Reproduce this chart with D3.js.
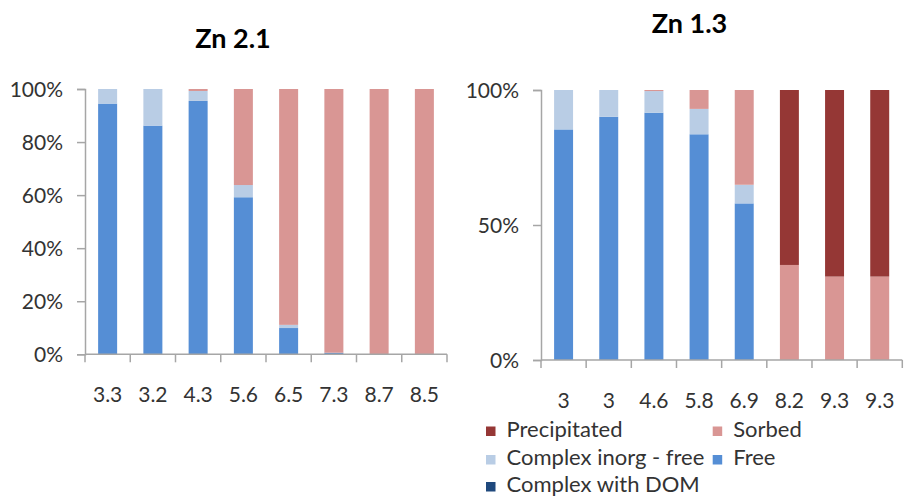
<!DOCTYPE html>
<html>
<head>
<meta charset="utf-8">
<script src="https://cdn.jsdelivr.net/npm/d3@7/dist/d3.min.js"></script>
<style>
  html, body { margin: 0; padding: 0; background: #fff; }
  svg { display: block; }
  text { font-family: Lato, "Open Sans", sans-serif; }
</style>
</head>
<body>
<svg id="chart" width="905" height="497"></svg>
<script>
// Zinc speciation (% of total) per sample, labelled by pH
const seriesNames = ["Complex with DOM", "Free", "Complex inorg - free", "Sorbed", "Precipitated"];
const seriesColors = ["#1F497D", "#558ED5", "#B9CDE5", "#D99694", "#953735"];

// Zn 2.1
const phA = ["3.3", "3.2", "4.3", "5.6", "6.5", "7.3", "8.7", "8.5"];
const domA = [0, 0, 0, 0, 0, 0, 0, 0];
const freeA = [94.5, 86.2, 95.5, 59.2, 9.9, 0.6, 0, 0];
const inorgA = [5.5, 13.8, 3.75, 4.6, 1.2, 0, 0, 0];
const sorbedA = [0, 0, 0.75, 36.2, 88.9, 99.4, 100, 100];
const precipA = [0, 0, 0, 0, 0, 0, 0, 0];
const ticksA = [0, 20, 40, 60, 80, 100];

// Zn 1.3
const phB = ["3", "3", "4.6", "5.8", "6.9", "8.2", "9.3", "9.3"];
const domB = [0, 0, 0, 0, 0, 0, 0, 0];
const freeB = [85.4, 90.1, 91.6, 83.6, 58.0, 0, 0, 0];
const inorgB = [14.6, 9.9, 8.0, 9.4, 6.9, 0, 0, 0];
const sorbedB = [0, 0, 0.4, 7.0, 35.1, 35.2, 30.9, 30.9];
const precipB = [0, 0, 0, 0, 0, 64.8, 69.1, 69.1];
const ticksB = [0, 50, 100];

const svg = d3.select("#chart");
const axisColor = "#A6A6A6";
const textColor = "#333333";

function drawPanel(cfg) {
  const { title, labels, series, ticks, x0, x1, yTop, yBottom, titleX, titleY, labelY } = cfg;
  const idx = labels.map((_, i) => i);
  const rows = idx.map(i => {
    const r = { i };
    seriesNames.forEach((name, k) => { r[name] = series[k][i]; });
    return r;
  });
  const stacked = d3.stack().keys(seriesNames)(rows);

  const x = d3.scaleBand().domain(idx).range([x0, x1]).padding(0);
  const y = d3.scaleLinear().domain([0, 100]).range([yBottom, yTop]);
  const barW = x.bandwidth() * 0.42;

  const g = svg.append("g");

  // stacked columns
  g.selectAll("g.layer")
    .data(stacked)
    .join("g")
    .attr("class", "layer")
    .attr("fill", (d, k) => seriesColors[k])
    .selectAll("rect")
    .data(d => d.filter(p => p[1] - p[0] > 0))
    .join("rect")
    .attr("x", p => x(p.data.i) + (x.bandwidth() - barW) / 2)
    .attr("width", barW)
    .attr("y", p => y(p[1]))
    .attr("height", p => y(p[0]) - y(p[1]));

  // value axis
  const yAxis = g.append("g")
    .attr("transform", `translate(${x0},0)`)
    .call(d3.axisLeft(y).tickValues(ticks).tickSize(8).tickPadding(14).tickFormat(d => d + "%"));
  yAxis.select(".domain").attr("stroke", axisColor).attr("stroke-width", 1.5);
  yAxis.selectAll(".tick line").attr("stroke", axisColor).attr("stroke-width", 1.5);
  yAxis.selectAll(".tick text")
    .attr("fill", textColor)
    .style("font-size", "21px")
    .attr("dy", "0.36em");

  // category axis: ticks sit between categories
  g.append("line")
    .attr("x1", x0).attr("x2", x1)
    .attr("y1", yBottom).attr("y2", yBottom)
    .attr("stroke", axisColor).attr("stroke-width", 1.5);
  const bounds = idx.map(i => x(i)).concat([x1]);
  g.selectAll("line.xtick")
    .data(bounds)
    .join("line")
    .attr("class", "xtick")
    .attr("x1", d => d).attr("x2", d => d)
    .attr("y1", yBottom).attr("y2", yBottom + 8)
    .attr("stroke", axisColor).attr("stroke-width", 1.5);
  g.selectAll("text.xlab")
    .data(idx)
    .join("text")
    .attr("class", "xlab")
    .attr("x", i => x(i) + x.bandwidth() / 2)
    .attr("y", labelY)
    .attr("text-anchor", "middle")
    .attr("fill", textColor)
    .style("font-size", "21px")
    .text(i => labels[i]);

  // title
  g.append("text")
    .attr("x", titleX).attr("y", titleY)
    .attr("text-anchor", "middle")
    .attr("fill", "#000")
    .style("font-size", "27px")
    .style("font-weight", "bold")
    .text(title);
}

drawPanel({
  title: "Zn 2.1", labels: phA,
  series: [domA, freeA, inorgA, sorbedA, precipA], ticks: ticksA,
  x0: 85, x1: 447, yTop: 89, yBottom: 354.3,
  titleX: 233, titleY: 48, labelY: 401.7
});

drawPanel({
  title: "Zn 1.3", labels: phB,
  series: [domB, freeB, inorgB, sorbedB, precipB], ticks: ticksB,
  x0: 541, x1: 902.3, yTop: 90, yBottom: 360,
  titleX: 689.5, titleY: 33, labelY: 408.3
});

// legend (listed in reverse stacking order)
const legendOrder = [4, 3, 2, 1, 0];
const legendCols = [486, 712.7];
const legendRows = [436.5, 465, 492];
const legend = svg.append("g");
const items = legend.selectAll("g.item")
  .data(legendOrder)
  .join("g")
  .attr("class", "item")
  .attr("transform", (k, j) => `translate(${legendCols[j % 2]},${legendRows[Math.floor(j / 2)]})`);
items.append("rect")
  .attr("x", 0).attr("y", -10)
  .attr("width", 9.5).attr("height", 9.5)
  .attr("fill", k => seriesColors[k]);
items.append("text")
  .attr("x", 20.5).attr("y", 0)
  .attr("fill", textColor)
  .style("font-size", "22px")
  .text(k => seriesNames[k]);
</script>
</body>
</html>
